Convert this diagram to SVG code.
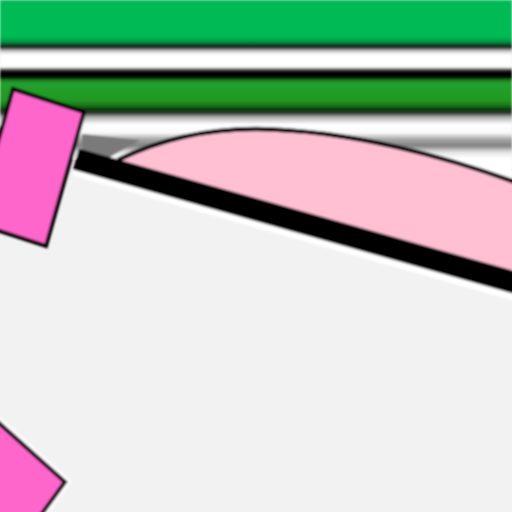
<svg xmlns="http://www.w3.org/2000/svg" width="512" height="512" viewBox="0 0 512 512">
  <defs>
    <linearGradient id="bands" gradientUnits="userSpaceOnUse" x1="0" y1="0" x2="0" y2="116">
      <stop offset="0" stop-color="#00BB55"/>
      <stop offset="0.31" stop-color="#00BB55"/>
      <stop offset="0.36" stop-color="#009944"/>
      <stop offset="0.405" stop-color="#111"/>
      <stop offset="0.44" stop-color="#ccc"/>
      <stop offset="0.474" stop-color="#fff"/>
      <stop offset="0.578" stop-color="#fff"/>
      <stop offset="0.603" stop-color="#333"/>
      <stop offset="0.629" stop-color="#000"/>
      <stop offset="0.664" stop-color="#000"/>
      <stop offset="0.69" stop-color="#1a7a1a"/>
      <stop offset="0.716" stop-color="#22a030"/>
      <stop offset="0.862" stop-color="#229922"/>
      <stop offset="0.905" stop-color="#1a7a1a"/>
      <stop offset="0.948" stop-color="#0a300a"/>
      <stop offset="0.983" stop-color="#444"/>
      <stop offset="1" stop-color="#999"/>
    </linearGradient>
    <linearGradient id="haze" gradientUnits="userSpaceOnUse" x1="0" y1="114" x2="0" y2="200">
      <stop offset="0" stop-color="#777"/>
      <stop offset="0.05" stop-color="#bbb"/>
      <stop offset="0.12" stop-color="#fff"/>
      <stop offset="0.22" stop-color="#fafafa"/>
      <stop offset="0.29" stop-color="#aaa"/>
      <stop offset="0.37" stop-color="#808080"/>
      <stop offset="0.44" stop-color="#e0e0e0"/>
      <stop offset="0.51" stop-color="#fff"/>
      <stop offset="1" stop-color="#fff"/>
    </linearGradient>
    <clipPath id="above">
      <polygon points="0,110 520,110 520,285 78,158 0,158"/>
    </clipPath>
    <filter id="soft" x="-5%" y="-5%" width="110%" height="110%">
      <feGaussianBlur stdDeviation="0.9"/>
    </filter>
  </defs>
  <style>
    .outline { stroke: #000; stroke-linejoin: miter; }
    .hot { fill: #FF66CC; }
  </style>
  <rect width="512" height="512" fill="#F2F2F2"/>
  <g filter="url(#soft)">
    <rect x="0" y="114" width="512" height="186" fill="url(#haze)" clip-path="url(#above)"/>
    <polygon points="82,134 140,140 108,158 82,158" fill="#7a7a7a"/>
    <path d="M122,158 C165,137 210,129 256,129 C350,130 450,158 520,184 L520,290 L80,160 Z" fill="#FFC0D4"/>
    <path d="M118,160 C165,137 210,129 256,129 C350,130 450,158 520,184" fill="none" stroke="#000" stroke-width="4.5"/>
    <line x1="76" y1="163" x2="520" y2="289" stroke="#fff" stroke-width="26"/>
    <line x1="76" y1="159" x2="520" y2="284" stroke="#000" stroke-width="22"/>
    <rect x="0" y="0" width="512" height="116" fill="url(#bands)"/>
    <g id="pink-block">
      <polygon class="hot outline" points="13,89 84,112 46,246 -25,223" stroke-width="4"/>
    </g>
    <g id="pink-diamond">
      <polygon points="65,482 -85,348 -145,430 5,564" fill="none" stroke="#fff" stroke-width="10"/>
      <polygon class="hot outline" points="65,482 -85,348 -145,430 5,564" stroke-width="4"/>
    </g>
  </g>
</svg>
